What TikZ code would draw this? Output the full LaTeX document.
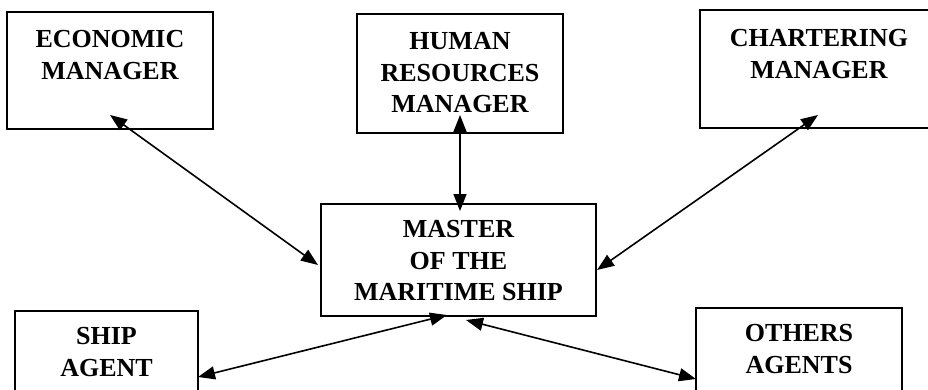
\documentclass[tikz,border=0pt]{standalone}
\usepackage{fontspec}
\setmainfont{Liberation Serif}
\usetikzlibrary{arrows.meta}
\tikzset{
  box/.style={draw=black, line width=1.7pt, rectangle, inner sep=0pt},
  lbl/.style={inner sep=0pt, anchor=north, align=center, font=\fontsize{26}{31.3}\selectfont\bfseries},
  link/.style={line width=1.6pt, {Triangle[length=17pt,width=13pt]}-{Triangle[length=17pt,width=13pt]}}
}
\begin{document}
\begin{tikzpicture}[x=1pt,y=-1pt]
\useasboundingbox (0,0) rectangle (928,389);
% boxes
\node[box, minimum width=206pt, minimum height=117pt] (econ) at (110,70.5) {};
\node[box, minimum width=206pt, minimum height=119pt] (hr) at (460,73.5) {};
\node[box, minimum width=238pt, minimum height=118pt] (chart) at (819,69) {};
\node[box, minimum width=275pt, minimum height=112pt] (master) at (458.5,260) {};
\node[box, minimum width=183pt, minimum height=84pt] (ship) at (106.5,353) {};
\node[box, minimum width=206pt, minimum height=87pt] (others) at (799,351.5) {};
% labels
\node[lbl] (econt) at (110,30.5) {ECONOMIC\\MANAGER};
\node[lbl] (hrt) at (460,32.5) {HUMAN\\RESOURCES\\MANAGER};
\node[lbl] (chartt) at (819,29.5) {CHARTERING\\MANAGER};
\node[lbl] (mastert) at (458.5,220.5) {MASTER\\OF THE\\MARITIME SHIP};
\node[lbl] (shipt) at (106.5,327.5) {SHIP\\AGENT};
\node[lbl] (otherst) at (799,324.5) {OTHERS\\AGENTS};
% connector ends
\coordinate (e1) at (110,115);
\coordinate (m1) at (318,265);
\coordinate (h1) at (460,115);
\coordinate (m2) at (460,211);
\coordinate (c1) at (818,115);
\coordinate (m3) at (597,270);
\coordinate (s1) at (198,377);
\coordinate (m4) at (447,315);
\coordinate (m5) at (466,320);
\coordinate (o1) at (696,379);
% connectors
\draw[link] (e1) -- (m1);
\draw[link] (h1) -- (m2);
\draw[link] (c1) -- (m3);
\draw[link] (s1) -- (m4);
\draw[link] (m5) -- (o1);
\end{tikzpicture}
\end{document}
